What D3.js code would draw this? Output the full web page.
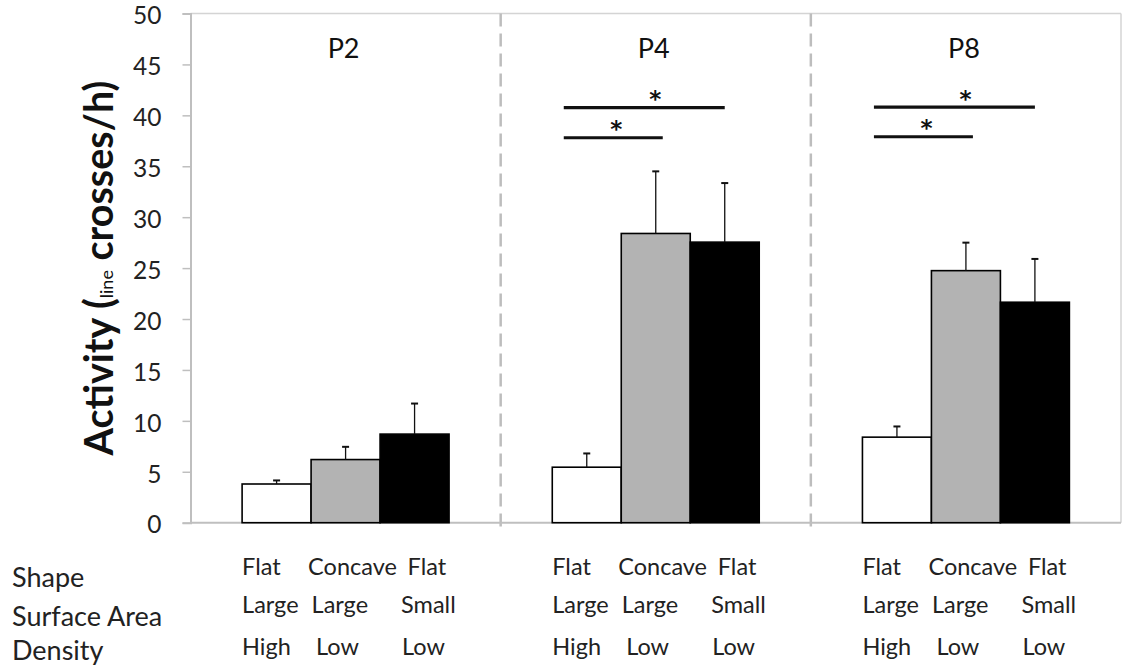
<!DOCTYPE html>
<html>
<head>
<meta charset="utf-8">
<script src="https://cdn.jsdelivr.net/npm/d3@7/dist/d3.min.js"></script>
<style>
  html, body { margin: 0; padding: 0; background: #fff; }
  svg { display: block; font-family: Lato, "Open Sans", sans-serif; }
</style>
</head>
<body>
<svg id="chart" width="1125" height="665"></svg>
<script>
// ---------------- data ----------------
const groups = ["P2", "P4", "P8"];
const conditions = ["flatLargeHigh", "concaveLargeLow", "flatSmallLow"];
const p2Means = [3.8, 6.2, 8.7];
const p2Errors = [0.35, 1.25, 3.0];
const p4Means = [5.45, 28.4, 27.55];
const p4Errors = [1.35, 6.1, 5.8];
const p8Means = [8.4, 24.75, 21.65];
const p8Errors = [1.05, 2.75, 4.25];
const yTicks = [0, 5, 10, 15, 20, 25, 30, 35, 40, 45, 50];
const rowTitles = ["Shape", "Surface Area", "Density"];
const shapeLabels = ["Flat", "Concave", "Flat"];
const surfaceLabels = ["Large", "Large", "Small"];
const densityLabels = ["High", "Low", "Low"];
// significance brackets: group, from condition index, to condition index, level (y units)
const sigGroups = ["P4", "P4", "P8", "P8"];
const sigFrom = [0, 0, 0, 0];
const sigTo = [1, 2, 1, 2];
const sigLevels = [37.8, 40.75, 37.9, 40.8];
const sigMark = "*";

// ---------------- layout ----------------
const meansByGroup = [p2Means, p4Means, p8Means];
const errorsByGroup = [p2Errors, p4Errors, p8Errors];
const records = [];
groups.forEach((g, gi) => conditions.forEach((c, ci) => {
  records.push({ group: g, cond: c, ci, value: meansByGroup[gi][ci], err: errorsByGroup[gi][ci] });
}));
const fills = ["#ffffff", "#b3b3b3", "#000000"];

const plot = { left: 190.5, right: 1121, top: 13.5, bottom: 522.7 };
const svg = d3.select("#chart");

const x0 = d3.scaleBand().domain(groups).range([plot.left, plot.right]).paddingInner(0).paddingOuter(0);
const x1 = d3.scaleBand().domain(conditions).range([0, x0.bandwidth()]).paddingInner(0).paddingOuter(0.748);
const y = d3.scaleLinear().domain([0, 50]).range([plot.bottom, plot.top]);

// frame (top / right)
svg.append("line").attr("x1", plot.left).attr("x2", plot.right).attr("y1", plot.top).attr("y2", plot.top)
  .attr("stroke", "#d4d4d4").attr("stroke-width", 1.5);
svg.append("line").attr("x1", plot.right).attr("x2", plot.right).attr("y1", plot.top).attr("y2", plot.bottom)
  .attr("stroke", "#d4d4d4").attr("stroke-width", 1.5);

// group separators
groups.slice(1).forEach(g => {
  const xs = x0(g);
  svg.append("line").attr("x1", xs).attr("x2", xs).attr("y1", plot.top).attr("y2", plot.bottom + 9)
    .attr("stroke", "#bdbdbd").attr("stroke-width", 2.5).attr("stroke-dasharray", "13,7");
});

// y axis
const yAxis = d3.axisLeft(y).tickValues(yTicks).tickSize(8).tickPadding(21).tickFormat(d3.format("d"));
const yg = svg.append("g").attr("transform", `translate(${plot.left},0)`).call(yAxis);
yg.select(".domain").attr("stroke", "#bfbfbf").attr("stroke-width", 2);
yg.selectAll(".tick line").attr("stroke", "#bfbfbf").attr("stroke-width", 1.5);
yg.selectAll(".tick text").attr("font-family", "Lato, sans-serif").attr("font-size", 24.5).attr("fill", "#222")
  .attr("dy", "0.42em");

// baseline
svg.append("line").attr("x1", plot.left).attr("x2", plot.right).attr("y1", plot.bottom).attr("y2", plot.bottom)
  .attr("stroke", "#bfbfbf").attr("stroke-width", 2);

// bars
const barG = svg.append("g");
barG.selectAll("rect").data(records).join("rect")
  .attr("x", d => x0(d.group) + x1(d.cond))
  .attr("y", d => y(d.value))
  .attr("width", x1.bandwidth())
  .attr("height", d => y(0) - y(d.value))
  .attr("fill", d => fills[d.ci])
  .attr("stroke", "#000").attr("stroke-width", 1.6);

// error bars
const errG = svg.append("g").attr("stroke", "#111").attr("stroke-width", 1.3);
records.forEach(d => {
  const cx = x0(d.group) + x1(d.cond) + x1.bandwidth() / 2;
  errG.append("line").attr("x1", cx).attr("x2", cx).attr("y1", y(d.value)).attr("y2", y(d.value + d.err));
  errG.append("line").attr("x1", cx - 3.5).attr("x2", cx + 3.5).attr("y1", y(d.value + d.err)).attr("y2", y(d.value + d.err))
    .attr("stroke-width", 2);
});

// panel titles
svg.append("g").selectAll("text").data(groups).join("text")
  .attr("x", g => x0(g) + x0.bandwidth() / 2 - 2)
  .attr("y", 57.5)
  .attr("text-anchor", "middle")
  .attr("font-size", 27).attr("fill", "#111")
  .text(g => g);

// significance brackets
const sigG = svg.append("g");
sigGroups.forEach((g, i) => {
  const c0 = x0(g) + x1(conditions[sigFrom[i]]) + x1.bandwidth() / 2;
  const c1 = x0(g) + x1(conditions[sigTo[i]]) + x1.bandwidth() / 2;
  const xa = c0 - 23;
  const xb = sigTo[i] === 2 ? c1 : c1 + 7;
  const ly = y(sigLevels[i]);
  sigG.append("line").attr("x1", xa).attr("x2", xb).attr("y1", ly).attr("y2", ly)
    .attr("stroke", "#111").attr("stroke-width", 3.2);
  const sx = sigTo[i] === 2 ? (xa + xb) / 2 + 11 : (xa + xb) / 2 + 3;
  sigG.append("text").attr("x", sx).attr("y", ly - 0.5).attr("text-anchor", "middle")
    .attr("font-family", "'DejaVu Sans', sans-serif").attr("font-weight", "bold")
    .attr("font-size", 23).attr("fill", "#111").text(sigMark);
});

// y axis title
const yt = svg.append("text")
  .attr("transform", "translate(113,268) rotate(-90)")
  .attr("text-anchor", "middle")
  .attr("fill", "#111");
yt.append("tspan").attr("font-size", 39.5).attr("font-weight", "bold").text("Activity (");
yt.append("tspan").attr("font-size", 18).attr("font-weight", "normal").text("line");
yt.append("tspan").attr("font-size", 39.5).attr("font-weight", "bold").text(" crosses/h)");

// bottom category table
const rowBaselines = [587, 626, 660];
svg.append("g").selectAll("text").data(rowTitles).join("text")
  .attr("x", 12).attr("y", (d, i) => rowBaselines[i])
  .attr("font-size", 27).attr("fill", "#222").text(d => d);

const labelRows = [shapeLabels, surfaceLabels, densityLabels];
const labelRowBaselines = [574.5, 613, 654.5];
const labelOffsets = [[0, 66, 165.5], [0, 69.5, 159], [0, 74, 160]];
const labG = svg.append("g").attr("font-size", 23.5).attr("fill", "#222");
groups.forEach(g => {
  const left = x0(g) + x1(conditions[0]);
  labelRows.forEach((row, ri) => {
    row.forEach((txt, ci) => {
      labG.append("text").attr("x", left + labelOffsets[ri][ci]).attr("y", labelRowBaselines[ri]).text(txt);
    });
  });
});
</script>
</body>
</html>
